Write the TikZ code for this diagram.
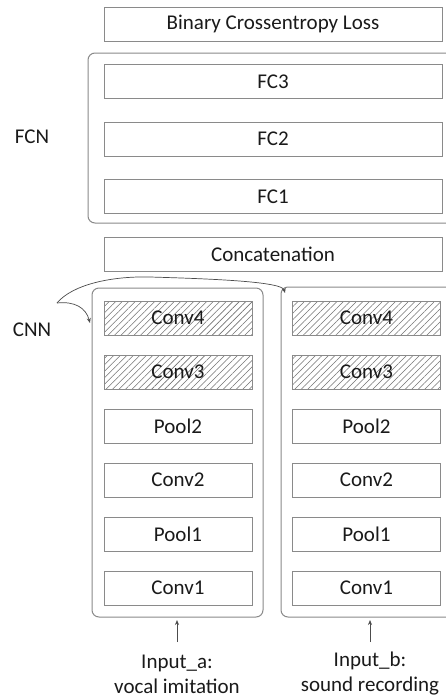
\documentclass[tikz,border=0pt]{standalone}
\usepackage{fontspec}
\setmainfont{Carlito}
\usetikzlibrary{patterns.meta,arrows.meta}
\definecolor{boxgray}{HTML}{8A8A8A}
\definecolor{txt}{HTML}{1A1A1A}
\tikzset{
  layer/.style={draw=boxgray, line width=0.9pt, minimum height=34pt, inner sep=0pt, font=\fontsize{21}{25}\selectfont, text=txt},
  wide/.style={layer, minimum width=338pt},
  narrow/.style={layer, minimum width=148pt},
  hatched/.style={pattern={Lines[angle=45,distance=4.6pt,line width=0.55pt]}, pattern color=black!55},
  group/.style={draw=boxgray, line width=1pt, rounded corners=7pt},
  lbl/.style={font=\fontsize{21}{25}\selectfont, text=txt},
  arr/.style={draw=black!70, line width=0.7pt, -{Stealth[length=5pt,width=4pt]}}
}
\begin{document}
\begin{tikzpicture}[x=1pt,y=-1pt]
\useasboundingbox (0,0) rectangle (446,697);
\clip (0,0) rectangle (446,697);
\fill[white] (0,0) rectangle (446,697);
% containers
\draw[group] (88,53) rectangle (470,223);
\draw[group] (92,288) rectangle (263,617);
\draw[group] (281,287) rectangle (470,617);
% top stack
\node[wide] (loss) at (273,24) {Binary Crossentropy Loss};
\node[wide] (fc3) at (273,81.5) {FC3};
\node[wide] (fc2) at (273,139) {FC2};
\node[wide] (fc1) at (273,196.5) {FC1};
\node[wide] (concat) at (273,254.5) {Concatenation};
% left branch
\node[narrow, hatched] (a4) at (178,318) {Conv4};
\node[narrow, hatched] (a3) at (178,372) {Conv3};
\node[narrow] (ap2) at (178,426) {Pool2};
\node[narrow] (a2) at (178,480) {Conv2};
\node[narrow] (ap1) at (178,534) {Pool1};
\node[narrow] (a1) at (178,588) {Conv1};
% right branch
\node[narrow, hatched] (b4) at (366.5,318) {Conv4};
\node[narrow, hatched] (b3) at (366.5,372) {Conv3};
\node[narrow] (bp2) at (366.5,426) {Pool2};
\node[narrow] (b2) at (366.5,480) {Conv2};
\node[narrow] (bp1) at (366.5,534) {Pool1};
\node[narrow] (b1) at (366.5,588) {Conv1};
% labels
\node[lbl] (fcn) at (32,137) {FCN};
\node[lbl] (cnn) at (32,330) {CNN};
% inputs
\node[lbl, align=center, inner sep=0pt] (ina) at (177,674) {Input\_a:\\vocal imitation};
\node[lbl, align=center, inner sep=0pt] (inb) at (370,674) {Input\_b:\\sound recording};
\coordinate (ta) at (177,642);
\coordinate (ha) at (177,620);
\coordinate (tb) at (370,642);
\coordinate (hb) at (370,620);
\draw[arr] (ta) -- (ha);
\draw[arr] (tb) -- (hb);
% shared-weights curve
\coordinate (cusp) at (57,303);
\coordinate (mid) at (150,277);
\coordinate (endr) at (285,293);
\coordinate (endl) at (90,323);
\draw[arr] (cusp) .. controls (72,285) and (110,276) .. (mid) .. controls (220,279) and (282,282) .. (endr);
\draw[arr] (cusp) .. controls (75,301) and (86,308) .. (endl);
\end{tikzpicture}
\end{document}
